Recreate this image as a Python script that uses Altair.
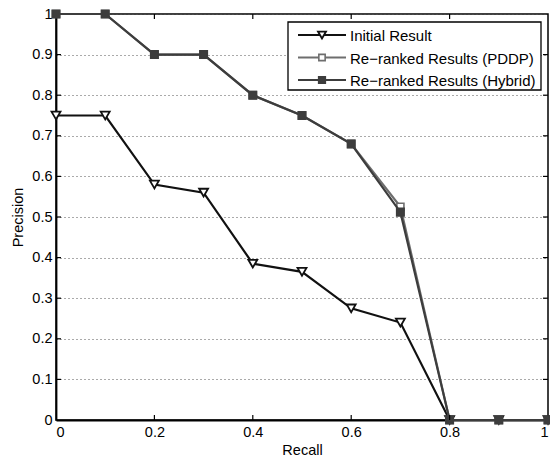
import altair as alt
import pandas as pd

# ---- data ----
recall = [0.0, 0.1, 0.2, 0.3, 0.4, 0.5, 0.6, 0.7, 0.8, 0.9, 1.0]
initial = [0.75, 0.75, 0.58, 0.56, 0.385, 0.365, 0.275, 0.24, 0.0, 0.0, 0.0]
pddp = [1.0, 1.0, 0.9, 0.9, 0.8, 0.75, 0.68, 0.525, 0.0, 0.0, 0.0]
hybrid = [1.0, 1.0, 0.9, 0.9, 0.8, 0.75, 0.68, 0.512, 0.0, 0.0, 0.0]
series_names = ["Initial Result", "Re\u2212ranked Results (PDDP)", "Re\u2212ranked Results (Hybrid)"]
x_ticks = [0.0, 0.2, 0.4, 0.6, 0.8, 1.0]
y_ticks = [0.0, 0.1, 0.2, 0.3, 0.4, 0.5, 0.6, 0.7, 0.8, 0.9, 1.0]

W, H = 492, 406
FONT = "Liberation Sans"

rows = []
for name, vals in zip(series_names, [initial, pddp, hybrid]):
    for r, p in zip(recall, vals):
        rows.append({"series": name, "recall": r, "precision": p})
df = pd.DataFrame(rows)

xs = alt.Scale(domain=[0, 1], nice=False)
ys = alt.Scale(domain=[0, 1], nice=False)

x_axis = alt.Axis(values=x_ticks, format="~g", title="Recall", grid=False,
                  tickSize=0, labelPadding=5, titlePadding=5,
                  labelFont=FONT, titleFont=FONT, labelFontSize=14.5, titleFontSize=14.5,
                  labelColor="black", titleColor="black", titleFontWeight="normal",
                  domainColor="black", domainWidth=1.8)
y_axis = alt.Axis(values=y_ticks, format="~g", title="Precision", grid=True,
                  gridDash=[1, 3], gridColor="#555555", gridWidth=1,
                  tickSize=0, labelPadding=4, titlePadding=6,
                  labelFont=FONT, titleFont=FONT, labelFontSize=14.5, titleFontSize=14.5,
                  labelColor="black", titleColor="black", titleFontWeight="normal",
                  domainColor="black", domainWidth=1.8)
X = alt.X("recall:Q", scale=xs, axis=x_axis)
Y = alt.Y("precision:Q", scale=ys, axis=y_axis)

styles = {
    series_names[0]: dict(color="#111111", shape="triangle-down", fill="white", size=80, sw=1.8),
    series_names[1]: dict(color="#6e6e6e", shape="square", fill="white", size=50, sw=1.6),
    series_names[2]: dict(color="#3d3d3d", shape="square", fill="#3d3d3d", size=55, sw=1.6),
}

layers = []
for name in series_names:
    st = styles[name]
    base = alt.Chart(df).transform_filter(alt.datum.series == name)
    layers.append(base.mark_line(color=st["color"], strokeWidth=2.2).encode(x=X, y=Y))
    layers.append(base.mark_point(shape=st["shape"], filled=False, fill=st["fill"],
                                  fillOpacity=1, opacity=1, stroke=st["color"],
                                  strokeWidth=st["sw"], size=st["size"]).encode(x=X, y=Y))

# inward ticks (MATLAB style)
xt = pd.DataFrame({"recall": x_ticks[1:-1]})
yt = pd.DataFrame({"precision": y_ticks[1:-1]})
layers.append(alt.Chart(xt).mark_rule(color="black", strokeWidth=1.2).encode(
    x=X, y=alt.value(H), y2=alt.value(H - 5)))
layers.append(alt.Chart(xt).mark_rule(color="black", strokeWidth=1.2).encode(
    x=X, y=alt.value(0), y2=alt.value(5)))
layers.append(alt.Chart(yt).mark_rule(color="black", strokeWidth=1.2).encode(
    y=Y, x=alt.value(0), x2=alt.value(5)))
layers.append(alt.Chart(yt).mark_rule(color="black", strokeWidth=1.2).encode(
    y=Y, x=alt.value(W), x2=alt.value(W - 5)))

# legend
one = pd.DataFrame({"a": [0]})
layers.append(alt.Chart(one).mark_rect(fill="white", stroke="black", strokeWidth=1.3).encode(
    x=alt.value(232), x2=alt.value(485), y=alt.value(8), y2=alt.value(76)))
leg_y = [21, 43.5, 66]
for name, yy in zip(series_names, leg_y):
    st = styles[name]
    layers.append(alt.Chart(one).mark_rule(color=st["color"], strokeWidth=2.2).encode(
        x=alt.value(242), x2=alt.value(290), y=alt.value(yy)))
    layers.append(alt.Chart(one).mark_point(shape=st["shape"], filled=False, fill=st["fill"],
                                            fillOpacity=1, opacity=1, stroke=st["color"],
                                            strokeWidth=st["sw"], size=st["size"] * 0.8).encode(
        x=alt.value(266), y=alt.value(yy)))
    layers.append(alt.Chart(pd.DataFrame({"t": [name]})).mark_text(
        align="left", baseline="middle", font=FONT, fontSize=15, color="black").encode(
        x=alt.value(294), y=alt.value(yy + 1), text="t:N"))

chart = alt.layer(*layers).properties(
    width=W, height=H,
    padding={"left": 56, "top": 14, "right": 2, "bottom": 44},
    autosize=alt.AutoSizeParams(type="none"),
    background="white",
).configure_view(stroke="black", strokeWidth=1.5)

chart.save("out.html", embed_options={"renderer": "svg", "actions": False})
